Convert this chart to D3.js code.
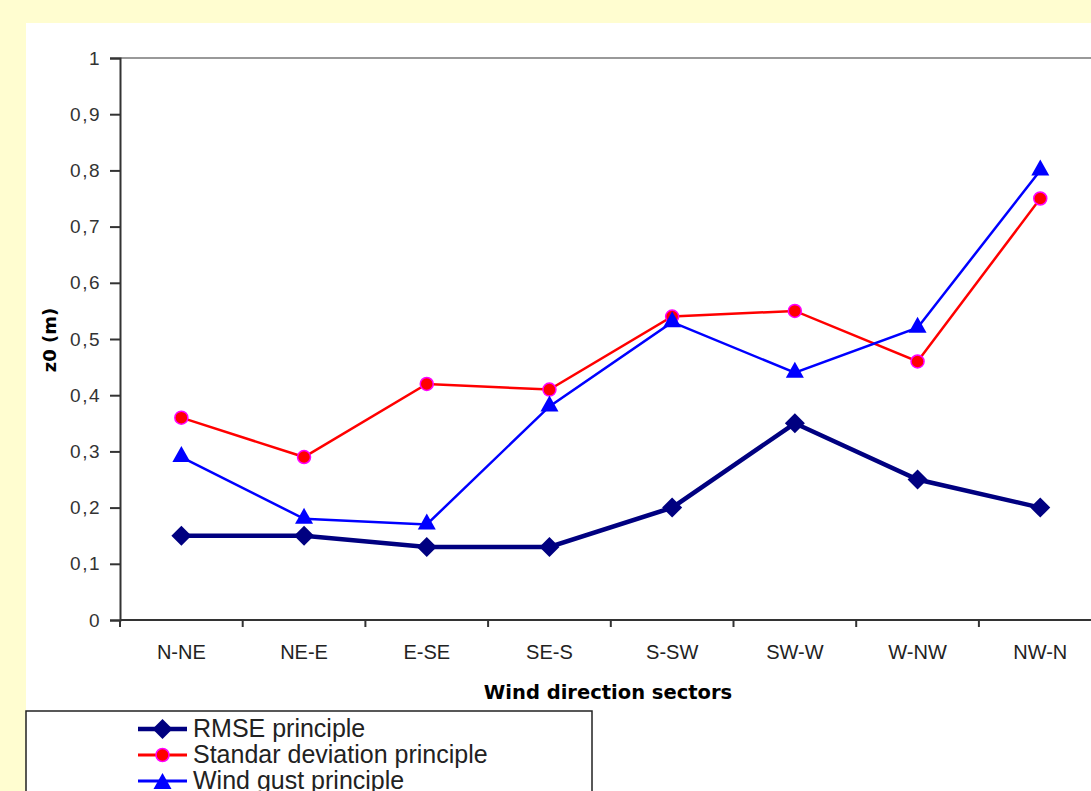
<!DOCTYPE html>
<html>
<head>
<meta charset="utf-8">
<script src="https://cdn.jsdelivr.net/npm/d3@7"></script>
<style>
  body { margin: 0; background: #FFFDD0; }
  svg { display: block; }
</style>
</head>
<body>
<div id="chart"></div>
<script>
// data
var sectors = ["N-NE", "NE-E", "E-SE", "SE-S", "S-SW", "SW-W", "W-NW", "NW-N"];
var rmse = [0.15, 0.15, 0.13, 0.13, 0.20, 0.35, 0.25, 0.20];
var stdDev = [0.36, 0.29, 0.42, 0.41, 0.54, 0.55, 0.46, 0.75];
var gust = [0.29, 0.18, 0.17, 0.38, 0.53, 0.44, 0.52, 0.80];
var yTicks = [0, 0.1, 0.2, 0.3, 0.4, 0.5, 0.6, 0.7, 0.8, 0.9, 1];
var seriesNames = ["RMSE principle", "Standar deviation principle", "Wind gust principle"];

var W = 1091, H = 791;
var svg = d3.select("#chart").append("svg").attr("width", W).attr("height", H);

// yellow slide bg + white chart panel
svg.append("rect").attr("width", W).attr("height", H).attr("fill", "#FFFDD0");
svg.append("rect").attr("x", 26).attr("y", 23).attr("width", W - 26).attr("height", H - 23).attr("fill", "#fff");

var plotLeft = 120, plotTop = 58, plotBottom = 620, band = 122.7;
var x = d3.scaleBand().domain(sectors).range([plotLeft, plotLeft + band * sectors.length]);
var y = d3.scaleLinear().domain([0, 1]).range([plotBottom, plotTop]);

// plot area border (only top visible, right is cut off)
svg.append("line").attr("x1", plotLeft).attr("x2", W).attr("y1", plotTop).attr("y2", plotTop)
  .attr("stroke", "#999").attr("stroke-width", 2);

// y axis
var yAxis = svg.append("g").attr("transform", "translate(" + plotLeft + ",0)")
  .call(d3.axisLeft(y).tickValues(yTicks).tickSize(10).tickPadding(9)
    .tickFormat(function (d) { return d === 0 || d === 1 ? String(d) : d3.format(".1f")(d).replace(".", ","); }));
yAxis.select(".domain").attr("stroke", "#333").attr("stroke-width", 2);
yAxis.selectAll(".tick line").attr("stroke", "#333").attr("stroke-width", 2);
yAxis.selectAll("text").attr("font-family", "Liberation Sans, Arial, sans-serif").attr("font-size", 19)
  .attr("letter-spacing", 1.5).attr("fill", "#333");

// x axis
var xAxis = svg.append("g").attr("transform", "translate(0," + plotBottom + ")")
  .call(d3.axisBottom(x).tickSize(0).tickPadding(25));
xAxis.select(".domain").attr("stroke", "#333").attr("stroke-width", 2).attr("d", "M" + plotLeft + ",0H" + W);
xAxis.selectAll("text").attr("font-family", "Liberation Sans, Arial, sans-serif").attr("font-size", 20).attr("fill", "#222");
// category separator ticks
svg.append("g").selectAll("line").data(d3.range(sectors.length + 1)).join("line")
  .attr("x1", function (i) { return plotLeft + i * band; }).attr("x2", function (i) { return plotLeft + i * band; })
  .attr("y1", plotBottom).attr("y2", plotBottom + 7).attr("stroke", "#333").attr("stroke-width", 2);

// axis titles
svg.append("text").attr("x", 608).attr("y", 699).attr("text-anchor", "middle")
  .attr("font-family", "DejaVu Sans, Verdana, sans-serif").attr("font-weight", "bold").attr("font-size", 19.5)
  .text("Wind direction sectors");
svg.append("text").attr("transform", "translate(56,340) rotate(-90)").attr("text-anchor", "middle")
  .attr("font-family", "DejaVu Sans, Verdana, sans-serif").attr("font-weight", "bold").attr("font-size", 18)
  .text("z0 (m)");

var cx = function (d, i) { return x(sectors[i]) + x.bandwidth() / 2; };
var line = d3.line().x(function (d, i) { return cx(d, i); }).y(function (d) { return y(d); });

function drawDiamond(g, px, py) {
  g.append("path").attr("d", "M0,-10L10,0L0,10L-10,0Z").attr("transform", "translate(" + px + "," + py + ")").attr("fill", "#000080");
}
function drawCircle(g, px, py) {
  g.append("circle").attr("cx", px).attr("cy", py).attr("r", 6.5).attr("fill", "#FF0000").attr("stroke", "#FF00FF").attr("stroke-width", 1.5);
}
function drawTriangle(g, px, py) {
  g.append("path").attr("d", "M0,-11L9,5L-9,5Z").attr("transform", "translate(" + px + "," + py + ")").attr("fill", "#0000FF");
}

// series lines
svg.append("path").datum(rmse).attr("d", line).attr("fill", "none").attr("stroke", "#000080").attr("stroke-width", 4.5);
svg.append("path").datum(stdDev).attr("d", line).attr("fill", "none").attr("stroke", "#FF0000").attr("stroke-width", 2.5);
svg.append("path").datum(gust).attr("d", line).attr("fill", "none").attr("stroke", "#0000FF").attr("stroke-width", 2.5);

var marks = svg.append("g");
rmse.forEach(function (v, i) { drawDiamond(marks, cx(v, i), y(v)); });
stdDev.forEach(function (v, i) { drawCircle(marks, cx(v, i), y(v)); });
gust.forEach(function (v, i) { drawTriangle(marks, cx(v, i), y(v)); });

// legend
var lg = svg.append("g");
lg.append("rect").attr("x", 26).attr("y", 711).attr("width", 566).attr("height", 100)
  .attr("fill", "#fff").attr("stroke", "#222").attr("stroke-width", 1.5);
var legendY = [729, 755, 781];
var legendColors = ["#000080", "#FF0000", "#0000FF"];
var legendWidths = [4.5, 3, 3];
var drawers = [drawDiamond, drawCircle, drawTriangle];
seriesNames.forEach(function (name, i) {
  lg.append("line").attr("x1", 138).attr("x2", 187).attr("y1", legendY[i]).attr("y2", legendY[i])
    .attr("stroke", legendColors[i]).attr("stroke-width", legendWidths[i]);
  drawers[i](lg, 162.5, legendY[i] + (i === 2 ? 3 : 0));
  lg.append("text").attr("x", 193).attr("y", legendY[i] + 8)
    .attr("font-family", "Liberation Sans, Arial, sans-serif").attr("font-size", 25).attr("fill", "#222")
    .text(name);
});
</script>
</body>
</html>
